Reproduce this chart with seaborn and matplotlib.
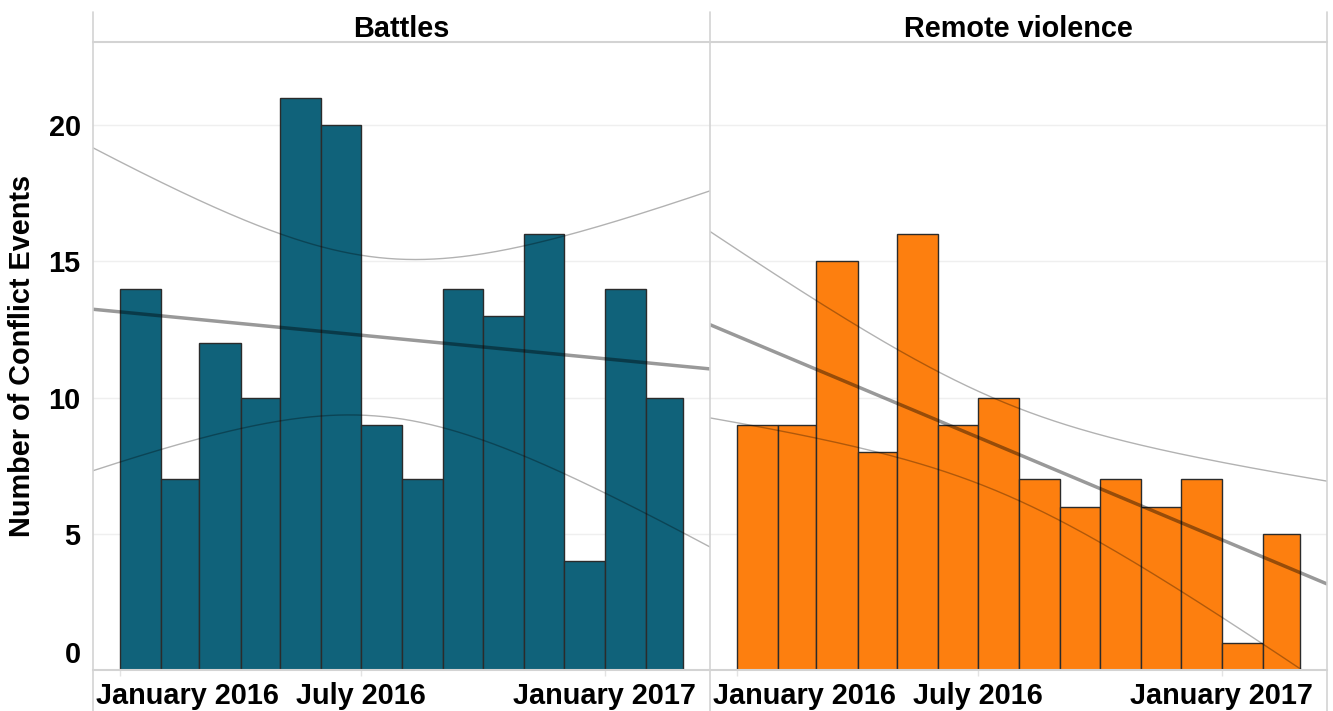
import numpy as np
import pandas as pd
import seaborn as sns
import matplotlib.pyplot as plt
import matplotlib.dates as mdates
from matplotlib.lines import Line2D
from matplotlib.transforms import ScaledTranslation

# data (monthly conflict event counts)
panels = ["Battles", "Remote violence"]
months = pd.date_range("2016-01-01", "2017-02-01", freq="MS")
battles = [14, 7, 12, 10, 21, 20, 9, 7, 14, 13, 16, 4, 14, 10]
remote = [9, 9, 15, 8, 16, 9, 10, 7, 6, 7, 6, 7, 1, 5]
colors = ["#10627a", "#fd7f0f"]
tick_dates = ["2016-01-01", "2016-07-01", "2017-01-01"]
tick_labels = ["January 2016", "July 2016", "January 2017"]
y_ticks = [0, 5, 10, 15, 20]

sns.set_style("white")
plt.rcParams["font.family"] = ["Liberation Sans", "DejaVu Sans"]
plt.rcParams["font.weight"] = "bold"
plt.rcParams["text.color"] = "black"
FS = 20.8
LINE = "#d3d3d3"

fig = plt.figure(figsize=(13.33, 7.11), dpi=100)
W, H = 617 / 1333, 628 / 711
B = 41 / 711
axes = [fig.add_axes([93 / 1333, B, W, H]), fig.add_axes([710 / 1333, B, W, H])]

x = mdates.date2num(months)
edges = mdates.date2num(pd.date_range("2016-01-01", "2017-03-01", freq="MS"))
xlo, xhi = edges[0] - 20.4, edges[-1] + 20.4
xs = np.linspace(xlo, xhi, 200)
T95 = 2.179  # t(0.975, df=12)

for ax, name, vals, c in zip(axes, panels, [battles, remote], colors):
    y = np.asarray(vals, float)
    df = pd.DataFrame({"month": x, "count": y})
    # bins as a plain list (seaborn compares bins == "auto" when weights are used)
    sns.histplot(data=df, x="month", weights="count", bins=list(edges), color=c,
                 edgecolor="#2b2b2b", linewidth=1, alpha=1, ax=ax)

    # linear trend with 95% confidence band
    b, a = np.polyfit(x, y, 1)
    fit = a + b * xs
    n = len(x)
    s = np.sqrt(np.sum((y - (a + b * x)) ** 2) / (n - 2))
    se = s * np.sqrt(1 / n + (xs - x.mean()) ** 2 / np.sum((x - x.mean()) ** 2))
    sns.lineplot(x=xs, y=fit, color="black", alpha=0.4, linewidth=2.5, ax=ax)
    for band in (fit + T95 * se, fit - T95 * se):
        sns.lineplot(x=xs, y=band, color="black", alpha=0.3, linewidth=1, ax=ax)

    ax.set_xlim(xlo, xhi)
    ax.set_ylim(0, 23.05)
    ax.set_yticks(y_ticks)
    ax.set_xticks(mdates.date2num(pd.to_datetime(tick_dates)))
    ax.set_xticklabels(tick_labels)
    ax.set_xlabel("")
    ax.set_ylabel("")
    ax.yaxis.grid(True, color="#efefef", linewidth=1)
    ax.set_axisbelow(True)
    for sp in ["top", "left", "right"]:
        ax.spines[sp].set_visible(False)
    ax.spines["bottom"].set_color(LINE)
    ax.spines["bottom"].set_linewidth(1.5)
    ax.tick_params(axis="x", length=4, color="#e3e3e3", width=1, pad=4.5,
                   labelsize=FS, labelcolor="black", bottom=True)
    ax.tick_params(axis="y", length=0, pad=9, labelsize=FS, labelcolor="black")

    first = ax.get_xticklabels()[0]
    first.set_horizontalalignment("left")
    first.set_transform(first.get_transform() +
                        ScaledTranslation(-0.24, 0, fig.dpi_scale_trans))

    ax.annotate(name, xy=(0.5, 1), xycoords="axes fraction", xytext=(0, 9.5),
                textcoords="offset points", ha="center", va="center",
                fontsize=FS, fontweight="bold", color="black")

axes[1].tick_params(axis="y", labelleft=False)
zero = axes[0].get_yticklabels()[0]
zero.set_transform(zero.get_transform() +
                   ScaledTranslation(0, 0.18, fig.dpi_scale_trans))

fig.text(22 / 1333, 0.4993, "Number of Conflict Events", rotation=90,
         ha="center", va="center", fontsize=FS, fontweight="bold", color="black")

# panel frame lines (header band and separators)
top = 1 - 12 / 711
for px in (93, 710, 1327):
    fig.add_artist(Line2D([px / 1333] * 2, [0, top], color=LINE, linewidth=1.2))
fig.add_artist(Line2D([93 / 1333, 1327 / 1333], [B + H] * 2, color=LINE, linewidth=1.5))

fig.savefig("out.png", dpi=100)
